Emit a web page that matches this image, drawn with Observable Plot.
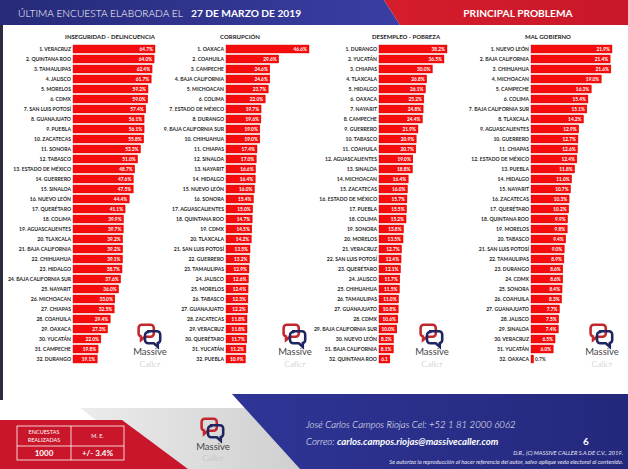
<!DOCTYPE html>
<html>
<head>
<meta charset="utf-8">
<script src="https://cdn.jsdelivr.net/npm/d3@7"></script>
<script src="https://cdn.jsdelivr.net/npm/@observablehq/plot@0.6"></script>
<style>
  body { margin: 0; background: #fff; }
  #page { position: relative; width: 628px; height: 469px; overflow: hidden; background: #fff; font-family: Lato, "Open Sans", sans-serif; }
  #decor { position: absolute; left: 0; top: 0; }
  .panel { position: absolute; top: 28px; }
</style>
</head>
<body>
<div id="page"></div>
<script>
// ---------- DATA ----------
const headerTitle = "ÚLTIMA ENCUESTA ELABORADA EL";
const headerDate = "27 DE MARZO DE 2019";
const headerRight = "PRINCIPAL PROBLEMA";

const panelTitles = ["INSEGURIDAD - DELINCUENCIA", "CORRUPCIÓN", "DESEMPLEO - POBREZA", "MAL GOBIERNO"];

const inseguridadStates = ["VERACRUZ","QUINTANA ROO","TAMAULIPAS","JALISCO","MORELOS","CDMX","SAN LUIS POTOSÍ","GUANAJUATO","PUEBLA","ZACATECAS","SONORA","TABASCO","ESTADO DE MÉXICO","GUERRERO","SINALOA","NUEVO LEÓN","QUERÉTARO","COLIMA","AGUASCALIENTES","TLAXCALA","BAJA CALIFORNIA","CHIHUAHUA","HIDALGO","BAJA CALIFORNIA SUR","NAYARIT","MICHOACAN","CHIAPAS","COAHUILA","OAXACA","YUCATÁN","CAMPECHE","DURANGO"];
const inseguridadValues = [64.7,64.0,62.4,61.7,59.2,59.0,57.4,56.1,56.1,55.8,53.3,51.0,48.7,47.6,47.5,44.4,41.1,39.9,39.7,39.2,39.2,39.1,38.7,37.6,36.0,33.0,32.5,29.4,27.3,22.0,19.8,19.1];

const corrupcionStates = ["OAXACA","COAHUILA","CAMPECHE","BAJA CALIFORNIA","MICHOACAN","COLIMA","ESTADO DE MÉXICO","DURANGO","BAJA CALIFORNIA SUR","CHIHUAHUA","CHIAPAS","SINALOA","NAYARIT","HIDALGO","NUEVO LEÓN","SONORA","AGUASCALIENTES","QUINTANA ROO","CDMX","TLAXCALA","SAN LUIS POTOSÍ","GUERRERO","TAMAULIPAS","JALISCO","MORELOS","TABASCO","GUANAJUATO","ZACATECAS","VERACRUZ","QUERÉTARO","YUCATÁN","PUEBLA"];
const corrupcionValues = [46.6,29.6,24.6,24.6,23.7,22.0,19.7,19.6,19.0,19.0,17.4,17.0,16.6,16.4,16.0,15.4,15.0,14.7,14.5,14.2,13.5,13.2,12.9,12.6,12.4,12.3,12.2,11.8,11.8,11.7,11.2,10.9];

const desempleoStates = ["DURANGO","YUCATÁN","CHIAPAS","TLAXCALA","HIDALGO","OAXACA","NAYARIT","CAMPECHE","GUERRERO","TABASCO","COAHUILA","AGUASCALIENTES","SINALOA","MICHOACAN","ZACATECAS","ESTADO DE MÉXICO","PUEBLA","COLIMA","SONORA","MORELOS","VERACRUZ","SAN LUIS POTOSÍ","QUERÉTARO","JALISCO","CHIHUAHUA","TAMAULIPAS","GUANAJUATO","CDMX","BAJA CALIFORNIA SUR","NUEVO LEÓN","BAJA CALIFORNIA","QUINTANA ROO"];
const desempleoValues = [38.2,36.5,30.0,26.8,26.1,25.2,24.8,24.4,21.9,20.9,20.7,19.0,18.8,16.4,16.0,15.7,15.5,15.2,13.8,13.5,12.7,12.4,12.1,11.7,11.5,11.0,10.8,10.6,10.0,8.2,8.1,6.1];

const malGobiernoStates = ["NUEVO LEÓN","BAJA CALIFORNIA","CHIHUAHUA","MICHOACAN","CAMPECHE","COLIMA","BAJA CALIFORNIA SUR","TLAXCALA","AGUASCALIENTES","GUERRERO","CHIAPAS","ESTADO DE MÉXICO","PUEBLA","HIDALGO","NAYARIT","ZACATECAS","QUERÉTARO","QUINTANA ROO","MORELOS","TABASCO","SAN LUIS POTOSÍ","TAMAULIPAS","DURANGO","CDMX","SONORA","COAHUILA","GUANAJUATO","JALISCO","SINALOA","VERACRUZ","YUCATÁN","OAXACA"];
const malGobiernoValues = [21.9,21.4,21.6,19.0,16.3,15.4,15.1,14.2,12.9,12.7,12.6,12.4,11.8,11.0,10.7,10.3,10.2,9.9,9.8,9.4,9.0,8.9,8.6,8.6,8.4,8.3,7.7,7.5,7.4,6.5,6.0,0.7];

const surveyLabels = ["ENCUESTAS", "REALIZADAS", "M. E."];
const surveyValues = ["1000", "+/- 3.4%"];
const contactLine = "José Carlos Campos Riojas Cel: +52 1 81 2000 6062";
const mailLabel = "Correo: ";
const mailAddress = "carlos.campos.riojas@massivecaller.com";
const pageNumber = "6";
const copyright1 = "D.R., (C) MASSIVE CALLER S.A DE C.V., 2019.";
const copyright2 = "Se autoriza la reproducción al hacer referencia del autor, salvo aplique veda electoral al contenido.";
const logoWords = ["Massive", "Caller"];

// ---------- DECOR (header, footer, logos) ----------
const page = document.getElementById("page");

function logo(cx, cy, s, y1, y2, fs1, fs2) {
  return `<g transform="translate(${cx},${cy}) scale(${s})">
    <path d="M-9,-9 h11 a4,4 0 0 1 4,4 v7 a4,4 0 0 1 -4,4 h-7 l-5,4 v-4.5 a4,4 0 0 1 -3,-3.5 v-7 a4,4 0 0 1 4,-4z" fill="none" stroke="#c1272d" stroke-width="3.2"/>
    <path d="M-1,-1 h11 a4,4 0 0 1 4,4 v7 a4,4 0 0 1 -3,3.8 v4.7 l-5,-4.5 h-7 a4,4 0 0 1 -4,-4 v-6 a4,4 0 0 1 4,-4z" fill="none" stroke="#1f2560" stroke-width="3.2"/>
  </g>
  <text x="${cx + 1}" y="${y1}" text-anchor="middle" font-size="${fs1}" fill="#454545" font-family="Lato">${logoWords[0]}</text>
  <text x="${cx + 1}" y="${y2}" text-anchor="middle" font-size="${fs2}" fill="#b8b8b8" font-family="Lato" font-weight="300">${logoWords[1]}</text>`;
}

const titleX = [110, 240, 406, 548];
const panelLogoX = [149, 294, 431, 601];

page.innerHTML = `
<svg id="decor" width="628" height="469" viewBox="0 0 628 469" font-family="Lato, sans-serif">
  <defs>
    <linearGradient id="gBlue" x1="0" x2="1" y1="0" y2="0">
      <stop offset="0" stop-color="#262a78"/>
      <stop offset="1" stop-color="#3a3ea3"/>
    </linearGradient>
    <linearGradient id="gRed" x1="0" x2="1">
      <stop offset="0" stop-color="#d51d2c"/>
      <stop offset="1" stop-color="#c8182a"/>
    </linearGradient>
    <linearGradient id="gGray" x1="0" x2="1">
      <stop offset="0" stop-color="#ececec"/>
      <stop offset="1" stop-color="#cfcfcf"/>
    </linearGradient>
    <linearGradient id="gFootBlue" x1="0" x2="1">
      <stop offset="0" stop-color="#2f3596"/>
      <stop offset="1" stop-color="#24287c"/>
    </linearGradient>
  </defs>
  <rect x="0" y="0" width="3" height="400" fill="#2a2b3d"/>
  <polygon points="0,0 384,0 400,25 0,25" fill="url(#gBlue)"/>
  <polygon points="384,0 628,0 628,25 400,25" fill="url(#gRed)"/>
  <text x="18" y="16.5" font-size="10.2" fill="#fff" font-weight="300">${headerTitle}</text>
  <text x="191" y="16.5" font-size="10.2" fill="#fff" font-weight="bold">${headerDate}</text>
  <text x="518" y="16.5" font-size="10.2" fill="#fff" font-weight="bold" text-anchor="middle">${headerRight}</text>
  ${panelTitles.map((t, i) => `<text x="${titleX[i]}" y="39" font-size="6" font-weight="bold" fill="#222" text-anchor="middle">${t}</text>`).join("")}
  ${panelLogoX.map(x => logo(x, 332, 0.8, 355, 367, 9.5, 8.5)).join("")}

  <polygon points="80,408 245,408 300,469 160,469" fill="url(#gGray)"/>
  <polygon points="232,394 628,394 628,469 300,469" fill="url(#gFootBlue)"/>
  <polygon points="0,420 122,420 188,469 0,469" fill="#c9162b"/>
  ${logo(212, 426, 0.8, 450, 461, 9.5, 8.5)}

  <g stroke="#fff" stroke-width="0.8" fill="none">
    <rect x="17" y="426" width="107" height="34"/>
    <line x1="71" y1="426" x2="71" y2="460"/>
    <line x1="17" y1="446" x2="124" y2="446"/>
  </g>
  <g fill="#fff" font-family="Lato" text-anchor="middle">
    <text x="44" y="434" font-size="5.5">${surveyLabels[0]}</text>
    <text x="44" y="441.5" font-size="5.5">${surveyLabels[1]}</text>
    <text x="97.5" y="438" font-size="5.5">${surveyLabels[2]}</text>
    <text x="44" y="456" font-size="8" font-weight="bold">${surveyValues[0]}</text>
    <text x="97.5" y="456" font-size="8" font-weight="bold">${surveyValues[1]}</text>
  </g>

  <text x="306" y="428" font-size="9.6" font-style="italic" font-weight="300" fill="#fff">${contactLine}</text>
  <text x="306" y="445" font-size="9.6" font-style="italic" fill="#fff"><tspan font-weight="300">${mailLabel}</tspan><tspan font-weight="bold">${mailAddress}</tspan></text>
  <text x="583" y="445" font-size="10" font-weight="bold" fill="#fff">${pageNumber}</text>
  <text x="623" y="455" font-size="5.8" font-style="italic" fill="#e8e8f4" text-anchor="end">${copyright1}</text>
  <text x="623" y="463.5" font-size="5.8" font-style="italic" fill="#e8e8f4" text-anchor="end">${copyright2}</text>
</svg>`;

// ---------- PANELS ----------
function makePanel(states, values, left, width, marginLeft, marginRight) {
  const data = states.map((s, i) => ({ label: `${i + 1}. ${s}`, value: values[i] }));
  const max = d3.max(values);
  const innerW = width - marginLeft - marginRight;
  const pxPer = innerW / max;
  const inside = data.filter(d => d.value * pxPer >= 9);
  const outside = data.filter(d => d.value * pxPer < 9);
  const fmt = d => (d.value * pxPer < 14 ? d.value.toFixed(1) : d.value.toFixed(1) + "%");
  const chart = Plot.plot({
    width,
    height: 340,
    marginTop: 16,
    marginBottom: 4,
    marginLeft,
    marginRight,
    x: { domain: [0, max], axis: null },
    y: { domain: data.map(d => d.label), axis: null, paddingInner: 0.2, paddingOuter: 0.1, round: false },
    style: { background: "transparent", overflow: "hidden", fontFamily: "Lato, sans-serif" },
    marks: [
      Plot.barX(data, { x: "value", y: "label", fill: "#f50c0c", stroke: "#d40000", strokeWidth: 0.4 }),
      Plot.text(data, { y: "label", text: "label", frameAnchor: "left", textAnchor: "end", dx: -2.5, fontSize: 5.1, fontWeight: "bold", fill: "#1e1e1e" }),
      Plot.text(inside, { x: "value", y: "label", text: fmt, textAnchor: "end", dx: -2.5, fontSize: 4.8, fontWeight: "bold", fill: "#fff" }),
      Plot.text(outside, { x: "value", y: "label", text: d => d.value.toFixed(1) + "%", textAnchor: "start", dx: 1, fontSize: 4.8, fontWeight: "bold", fill: "#333" })
    ]
  });
  const div = document.createElement("div");
  div.className = "panel";
  div.style.left = left + "px";
  div.appendChild(chart);
  page.appendChild(div);
}

makePanel(inseguridadStates, inseguridadValues, 0, 160, 73, 5);
makePanel(corrupcionStates, corrupcionValues, 155, 160, 71, 6);
makePanel(desempleoStates, desempleoValues, 310, 160, 69, 23);
makePanel(malGobiernoStates, malGobiernoValues, 465, 163, 66, 16);
</script>
</body>
</html>
